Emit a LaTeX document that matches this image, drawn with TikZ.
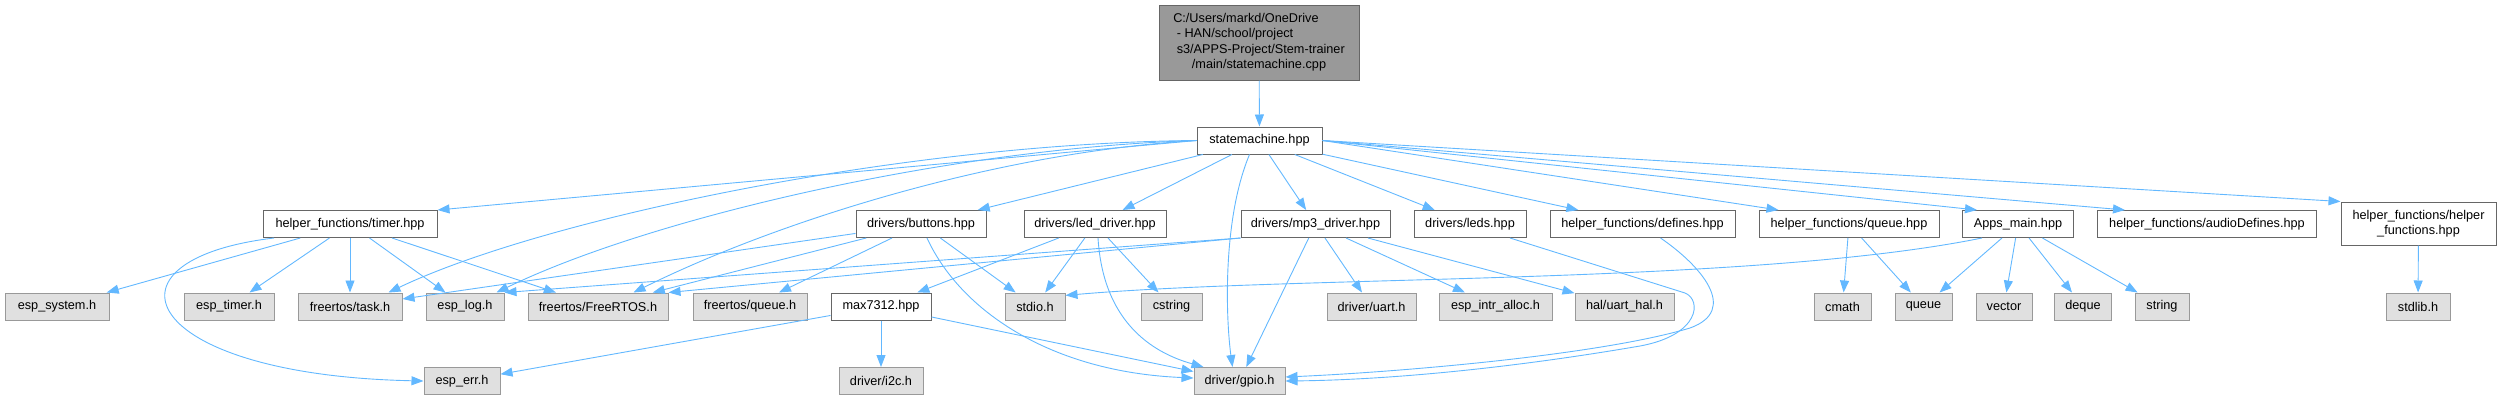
\documentclass[tikz,border=0pt]{standalone}
\usepackage{fontspec}
\setmainfont{Liberation Sans}
\usetikzlibrary{arrows.meta}
\definecolor{edgeblue}{RGB}{99, 184, 255}
\definecolor{frame}{RGB}{102, 102, 102}
\definecolor{sysframe}{RGB}{153, 153, 153}
\definecolor{sysfill}{RGB}{224, 224, 224}
\definecolor{srcfill}{RGB}{153, 153, 153}

\begin{document}
\begin{tikzpicture}[x=1pt, y=-1pt,
      every node/.style={font=\fontsize{12.7}{15.5}\selectfont, inner sep=2pt},
      srcbox/.style={rectangle, draw=frame, line width=1pt, fill=srcfill,
                     minimum width=200pt, minimum height=75pt},
      filebox/.style={rectangle, draw=frame, line width=1pt, fill=white,
                      minimum height=27pt},
      sysbox/.style={rectangle, draw=sysframe, line width=1pt, fill=sysfill,
                     minimum height=27pt},
      dep/.style={-{Triangle[length=12pt, width=9pt]}, line width=0.9pt, draw=edgeblue}
    ]
    \useasboundingbox (0,0) rectangle (2501,400);

    \node[srcbox] (src) at (1259,42.5)
          {\begin{tabular}{@{}l@{}}C:/Users/markd/OneDrive\\\ - HAN/school/project\\\ s3/APPS-Project/Stem-trainer\\\multicolumn{1}{@{}c@{}}{/main/statemachine.cpp}\end{tabular}};
    \node[filebox, minimum width=125pt] (sm) at (1259.5,140.5) {statemachine.hpp};

    \node[filebox, minimum width=174pt] (timer)    at (350,224)    {helper\_functions/timer.hpp};
    \node[filebox, minimum width=130pt] (buttons)  at (921,224)    {drivers/buttons.hpp};
    \node[filebox, minimum width=142pt] (leddrv)   at (1095,224)   {drivers/led\_driver.hpp};
    \node[filebox, minimum width=149pt] (mp3)      at (1315.5,224) {drivers/mp3\_driver.hpp};
    \node[filebox, minimum width=112pt] (leds)     at (1470,224)   {drivers/leds.hpp};
    \node[filebox, minimum width=185pt] (defines)  at (1642.5,224) {helper\_functions/defines.hpp};
    \node[filebox, minimum width=180pt] (queuehpp) at (1849,224)   {helper\_functions/queue.hpp};
    \node[filebox, minimum width=111pt] (apps)     at (2018,224)   {Apps\_main.hpp};
    \node[filebox, minimum width=219pt] (audio)    at (2207,224)   {helper\_functions/audioDefines.hpp};
    \node[filebox, minimum width=155pt, minimum height=43pt, align=center] (helper)
          at (2418.5,223.5) {helper\_functions/helper\\\_functions.hpp};

    \node[sysbox, minimum width=104pt] (espsys)   at (57,306.5)     {esp\_system.h};
    \node[sysbox, minimum width=90pt]  (esptimer) at (229,306.5)    {esp\_timer.h};
    \node[sysbox, minimum width=104pt] (task)     at (350,306.5)    {freertos/task.h};
    \node[sysbox, minimum width=78pt]  (esplog)   at (465,306.5)    {esp\_log.h};
    \node[sysbox, minimum width=140pt] (freertos) at (598,306.5)    {freertos/FreeRTOS.h};
    \node[sysbox, minimum width=114pt] (fqueue)   at (750,306.5)    {freertos/queue.h};
    \node[filebox, minimum width=100pt] (max)     at (881,306.5)    {max7312.hpp};
    \node[sysbox, minimum width=60pt]  (stdio)    at (1035,306.5)   {stdio.h};
    \node[sysbox, minimum width=61pt]  (cstring)  at (1171.5,306.5) {cstring};
    \node[sysbox, minimum width=89pt]  (uart)     at (1371.5,306.5) {driver/uart.h};
    \node[sysbox, minimum width=113pt] (intr)     at (1495.5,306.5) {esp\_intr\_alloc.h};
    \node[sysbox, minimum width=99pt]  (uarthal)  at (1624.5,306.5) {hal/uart\_hal.h};
    \node[sysbox, minimum width=57pt]  (cmath)    at (1842.5,306.5) {cmath};
    \node[sysbox, minimum width=57pt]  (queue)    at (1923.5,306.5) {queue};
    \node[sysbox, minimum width=56pt]  (vector)   at (2004,306.5)   {vector};
    \node[sysbox, minimum width=57pt]  (deque)    at (2083,306.5)   {deque};
    \node[sysbox, minimum width=54pt]  (string)   at (2162,306.5)   {string};
    \node[sysbox, minimum width=64pt]  (stdlib)   at (2418,306.5)   {stdlib.h};

    \node[sysbox, minimum width=76pt] (esperr) at (462,381)    {esp\_err.h};
    \node[sysbox, minimum width=84pt] (i2c)    at (881,381)    {driver/i2c.h};
    \node[sysbox, minimum width=91pt] (gpio)   at (1239.5,381) {driver/gpio.h};

    \draw[dep] (src) -- (sm);
    \draw[dep] (sm.west) -- (timer.north east);
    \draw[dep] (sm.west) .. controls (900,143) and (540,220) .. ([xshift=-14pt]task.north east);
    \draw[dep] (sm.west) .. controls (950,148) and (650,218) .. ([xshift=-8pt]esplog.north east);
    \draw[dep] (sm.west) .. controls (1000,152) and (780,220) .. ([xshift=-35pt]freertos.north east);
    \draw[dep] (sm) -- (buttons);
    \draw[dep] (sm) -- (leddrv);
    \draw[dep] ([xshift=-10pt]sm.south) .. controls (1222,220) and (1226,320) .. ([xshift=-7pt]gpio.north);
    \draw[dep] (sm) -- (mp3);
    \draw[dep] (sm) -- (leds);
    \draw[dep] (sm) -- (defines);
    \draw[dep] (sm.east) -- ([xshift=20pt]queuehpp.north west);
    \draw[dep] (sm.east) -- ([xshift=15pt]apps.north west);
    \draw[dep] (sm.east) -- ([xshift=28pt]audio.north west);
    \draw[dep] (sm.east) -- (helper.north west);

    \draw[dep] (timer) -- (espsys);
    \draw[dep] (timer) -- (esptimer);
    \draw[dep] (timer) -- (task);
    \draw[dep] (timer) -- (esplog);
    \draw[dep] (timer) -- (freertos);
    \draw[dep] ([xshift=-76pt]timer.south) .. controls (90,260) and (140,375) .. (esperr.west);

    \draw[dep] (buttons) -- (task);
    \draw[dep] (buttons) -- (freertos);
    \draw[dep] (buttons) -- (fqueue);
    \draw[dep] (buttons) -- (stdio);
    \draw[dep] ([xshift=6pt]buttons.south) .. controls (960,310) and (1050,372) .. ([yshift=3pt]gpio.west);

    \draw[dep] (leddrv) -- (max);
    \draw[dep] (leddrv) -- (stdio);
    \draw[dep] (leddrv) -- (cstring);
    \draw[dep] ([xshift=3pt]leddrv.south) .. controls (1103,320) and (1150,352) .. ([xshift=10pt]gpio.north west);

    \draw[dep] (mp3.south west) -- (esplog.north east);
    \draw[dep] (mp3.south west) -- (freertos.north east);
    \draw[dep] (mp3) -- (gpio);
    \draw[dep] (mp3) -- (uart);
    \draw[dep] (mp3) -- (intr);
    \draw[dep] (mp3) -- (uarthal);

    \draw[dep] (max) -- (esperr);
    \draw[dep] (max) -- (i2c);
    \draw[dep] (max) -- (gpio);

    \draw[dep] ([xshift=40pt]leds.south) -- (1685,293) .. controls (1702,300) and (1700,335) .. (1640,346)
               .. controls (1500,370) and (1380,380) .. (gpio.east);
    \draw[dep] ([xshift=18pt]defines.south) .. controls (1700,265) and (1740,310) .. (1690,328)
               .. controls (1600,355) and (1400,372) .. ([yshift=4pt]gpio.east);

    \draw[dep] (queuehpp) -- (cmath);
    \draw[dep] (queuehpp) -- (queue);

    \draw[dep] ([xshift=-36pt]apps.south) .. controls (1750,285) and (1300,275) .. (stdio.20);
    \draw[dep] (apps) -- (queue);
    \draw[dep] (apps) -- (vector);
    \draw[dep] (apps) -- (deque);
    \draw[dep] (apps) -- (string);

    \draw[dep] (helper) -- (stdlib);
  \end{tikzpicture}
\end{document}
